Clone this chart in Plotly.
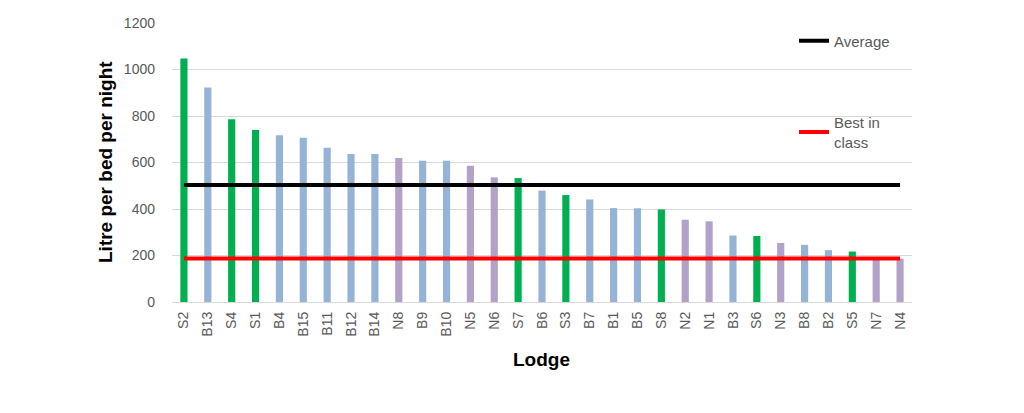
import plotly.graph_objects as go

lodges = ["S2", "B13", "S4", "S1", "B4", "B15", "B11", "B12", "B14", "N8",
          "B9", "B10", "N5", "N6", "S7", "B6", "S3", "B7", "B1", "B5",
          "S8", "N2", "N1", "B3", "S6", "N3", "B8", "B2", "S5", "N7", "N4"]
litres = [1047, 923, 786, 740, 717, 706, 663, 637, 637, 619,
          608, 608, 586, 536, 533, 479, 460, 441, 404, 403,
          398, 354, 347, 286, 284, 254, 246, 223, 217, 183, 186]
average_value = 503
best_in_class_value = 187

group_colors = {"S": "#00B050", "B": "#95B3D7", "N": "#B3A2C7"}
bar_colors = [group_colors[l[0]] for l in lodges]

FONT = "Liberation Sans"
GREY = "#595959"

fig = go.Figure()
fig.add_trace(go.Bar(
    x=lodges, y=litres, marker=dict(color=bar_colors, line=dict(width=0)),
    showlegend=False, hoverinfo="x+y",
))
fig.add_trace(go.Scatter(
    x=lodges, y=[average_value] * len(lodges), mode="lines", name="Average",
    line=dict(color="#000000", width=4), legend="legend",
))
fig.add_trace(go.Scatter(
    x=lodges, y=[best_in_class_value] * len(lodges), mode="lines",
    name="Best in<br>class",
    line=dict(color="#FF0000", width=4), legend="legend2",
))

# page body has an 8px margin; figure sized to fit the 1024x413 window
OFF = 8
W, H = 1024 - 2 * OFF, 413 - 2 * OFF
# plot area in window (screen) pixels
SX0, SX1, SY0, SY1 = 172, 912, 23, 302
L, R = SX0 - OFF, W - (SX1 - OFF)
T, B = SY0 - OFF, H - (SY1 - OFF)
pw, ph = SX1 - SX0, SY1 - SY0

def px_x(x):
    return (x - SX0) / pw

def px_y(y):
    return (SY1 - y) / ph

fig.update_layout(
    width=W, height=H,
    margin=dict(l=L, r=R, t=T, b=B, autoexpand=False),
    paper_bgcolor="white", plot_bgcolor="white",
    bargap=0.7,
    font=dict(family=FONT, color=GREY),
    legend=dict(x=px_x(794), xanchor="left", y=px_y(41), yanchor="middle",
                font=dict(family=FONT, size=15, color=GREY),
                bgcolor="rgba(0,0,0,0)"),
    legend2=dict(x=px_x(794), xanchor="left", y=px_y(132), yanchor="middle",
                 font=dict(family=FONT, size=15, color=GREY),
                 bgcolor="rgba(0,0,0,0)"),
    xaxis=dict(
        type="category", tickangle=-90, showgrid=False, automargin=False,
        tickfont=dict(family=FONT, size=14, color=GREY),
        showline=False, ticks="", ticklabelstandoff=6,
    ),
    yaxis=dict(
        range=[0, 1200], dtick=200, showgrid=True, gridcolor="#D9D9D9",
        gridwidth=1, zeroline=True, zerolinecolor="#D9D9D9", zerolinewidth=1,
        automargin=False,
        tickfont=dict(family=FONT, size=14, color=GREY),
        showline=False, ticks="", ticklabelstandoff=16,
    ),
    annotations=[
        dict(text="<b>Litre per bed per night</b>", xref="paper", yref="paper",
             x=px_x(105), y=px_y(162), textangle=-90, showarrow=False,
             xanchor="center", yanchor="middle",
             font=dict(family=FONT, size=19, color="#000000")),
        dict(text="<b>Lodge</b>", xref="paper", yref="paper",
             x=px_x(541), y=px_y(359), showarrow=False,
             xanchor="center", yanchor="middle",
             font=dict(family=FONT, size=19, color="#000000")),
    ],
)

fig.write_html("out.html")
